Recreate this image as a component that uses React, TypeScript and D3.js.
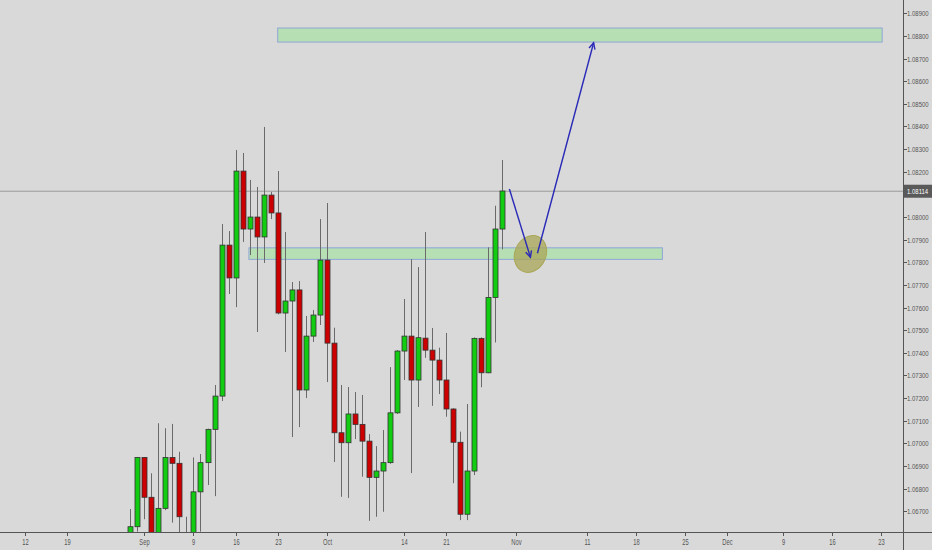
import React from "react";
import * as d3 from "d3";

// Daily bars (index 0 = Aug 30).
const opens = [1.06595,1.06632,1.06938,1.06762,1.06560,1.06713,1.06938,1.06912,1.06575,1.06540,
1.06786,1.06915,1.07062,1.07209,1.07876,1.07731,1.08203,1.07947,1.08000,1.07912,
1.08097,1.08018,1.07576,1.07629,1.07678,1.07236,1.07474,1.07567,1.07810,1.07443,
1.07047,1.07003,1.07130,1.07084,1.07010,1.06850,1.06878,1.06915,1.07135,1.07408,
1.07474,1.07280,1.07465,1.07412,1.07368,1.07280,1.07152,1.07005,1.06687,1.06878,
1.07464,1.07312,1.07645,1.07947];
const highs = [1.06710,1.06940,1.06940,1.06868,1.07089,1.07067,1.07086,1.06963,1.06676,1.06938,
1.06953,1.07065,1.07258,1.07969,1.07938,1.08296,1.08283,1.08164,1.08133,1.08398,
1.08111,1.08203,1.07934,1.07713,1.07717,1.07563,1.07589,1.07991,1.08062,1.07511,
1.07258,1.07249,1.07227,1.07214,1.07041,1.06988,1.07059,1.07337,1.07412,1.07638,
1.07814,1.07779,1.07934,1.07510,1.07423,1.07488,1.07155,1.07052,1.07174,1.07468,
1.07468,1.07866,1.08050,1.08252];
const lows = [1.06590,1.06610,1.06665,1.06560,1.06540,1.06705,1.06650,1.06590,1.06510,1.06520,
1.06610,1.06816,1.06767,1.07187,1.07660,1.07602,1.07890,1.07832,1.07492,1.07797,
1.07991,1.07570,1.07404,1.07028,1.07072,1.07200,1.07448,1.07523,1.07271,1.06918,
1.06764,1.06759,1.07019,1.06853,1.06658,1.06676,1.06698,1.06910,1.07130,1.07280,
1.06869,1.07161,1.07378,1.07166,1.07218,1.07118,1.06824,1.06661,1.06661,1.06860,
1.07248,1.07310,1.07446,1.07857];
const closes = [1.06632,1.06938,1.06762,1.06580,1.06713,1.06938,1.06912,1.06676,1.06530,1.06786,
1.06915,1.07062,1.07209,1.07876,1.07731,1.08203,1.07947,1.08000,1.07912,1.08097,
1.08018,1.07576,1.07629,1.07678,1.07236,1.07474,1.07567,1.07810,1.07443,1.07047,
1.07003,1.07130,1.07084,1.07010,1.06850,1.06878,1.06915,1.07135,1.07408,1.07474,
1.07280,1.07467,1.07412,1.07368,1.07280,1.07152,1.07005,1.06687,1.06878,1.07464,
1.07312,1.07645,1.07947,1.08115];

const currentPrice = 1.08114;

const dateTickIndex = [-15,-9,2,9,15,21,28,39,45,55,65,72,79,85,93,100,107];
const dateTickLabels = ["12","19","Sep","9","16","23","Oct","14","21","Nov","11","18","25","Dec","9","16","23"];

const priceTicks = [1.067,1.068,1.069,1.070,1.071,1.072,1.073,1.074,1.075,1.076,1.077,1.078,1.079,1.080,1.081,1.082,1.083,1.084,1.085,1.086,1.087,1.088,1.089];

// Drawings: zones [startIndex, endIndex, lowPrice, highPrice]
const zoneStart = [21, 16.9];
const zoneEnd = [107.1, 75.8];
const zoneLow = [1.08773, 1.07813];
const zoneHigh = [1.08835, 1.07864];

// Arrows as index/price
const arrowX1 = [54.0, 58.0];
const arrowP1 = [1.08124, 1.07840];
const arrowX2 = [57.0, 66.0];
const arrowP2 = [1.07822, 1.08770];

const ellipseIndex = 57.0;
const ellipsePrice = 1.07837;

const W = 932, H = 550;
const plotW = 903, plotH = 532;

export default function App() {
  const x = d3.scaleLinear().domain([-18.56, 110.07]).range([0, plotW]);
  const y = d3.scaleLinear().domain([1.066086, 1.089588]).range([plotH, 0]);
  const bodyW = 5;
  const font = "'Liberation Sans', Arial, sans-serif";
  const axisColor = "#555";

  const arrowHead = (x1: number, y1: number, x2: number, y2: number) => {
    const ang = Math.atan2(y2 - y1, x2 - x1);
    const len = 7, spread = 0.45;
    const a1 = ang + Math.PI - spread, a2 = ang + Math.PI + spread;
    return `M${x2 + len * Math.cos(a1)},${y2 + len * Math.sin(a1)}L${x2},${y2}L${x2 + len * Math.cos(a2)},${y2 + len * Math.sin(a2)}`;
  };

  return (
    <div style={{ position: "absolute", left: 0, top: 0 }}>
      <svg width={W} height={H} style={{ display: "block", background: "#d9d9d9" }}>
        <defs>
          <clipPath id="plot">
            <rect x={0} y={0} width={plotW} height={plotH} />
          </clipPath>
        </defs>
        <rect x={0} y={0} width={W} height={H} fill="#d9d9d9" />
        <g clipPath="url(#plot)">
          <line x1={0} x2={plotW} y1={y(currentPrice)} y2={y(currentPrice)} stroke="#9a9a9a" strokeWidth={1} />
          {zoneStart.map((s, i) => (
            <rect key={"z" + i} x={x(s)} y={y(zoneHigh[i])} width={x(zoneEnd[i]) - x(s)} height={y(zoneLow[i]) - y(zoneHigh[i])}
              fill="#b6dfb4" stroke="#8ea6d6" strokeWidth={1} />
          ))}
          {opens.map((o, i) => {
            const c = closes[i];
            const up = c >= o;
            const cx = Math.round(x(i)) + 0.5;
            const top = y(Math.max(o, c));
            const bot = y(Math.min(o, c));
            return (
              <g key={i}>
                <line x1={cx} x2={cx} y1={y(highs[i])} y2={y(lows[i])} stroke="#6a6a6a" strokeWidth={1} />
                <rect x={cx - bodyW / 2} y={top} width={bodyW} height={Math.max(1, bot - top)}
                  fill={up ? "#11cc11" : "#cc0000"} stroke="#333" strokeWidth={0.8} />
              </g>
            );
          })}
          <ellipse cx={x(ellipseIndex)} cy={y(ellipsePrice)} rx={15.5} ry={19}
            transform={`rotate(25 ${x(ellipseIndex)} ${y(ellipsePrice)})`}
            fill="#a8a655" fillOpacity={0.75} stroke="#a8a655" strokeWidth={1} />
          {arrowX1.map((a, i) => {
            const x1 = x(a), y1 = y(arrowP1[i]), x2 = x(arrowX2[i]), y2 = y(arrowP2[i]);
            return (
              <g key={"a" + i} stroke="#2a2ab8" strokeWidth={1.4} fill="none">
                <line x1={x1} y1={y1} x2={x2} y2={y2} />
                <path d={arrowHead(x1, y1, x2, y2)} />
              </g>
            );
          })}
        </g>
        <line x1={0} x2={W} y1={plotH + 0.5} y2={plotH + 0.5} stroke={axisColor} strokeWidth={1} />
        <line x1={plotW + 0.5} x2={plotW + 0.5} y1={0} y2={H} stroke={axisColor} strokeWidth={1} />
        {dateTickIndex.map((d, i) => {
          const tx = Math.round(x(d)) + 0.5;
          return (
            <g key={"dt" + i}>
              <line x1={tx} x2={tx} y1={plotH + 1} y2={plotH + 4} stroke={axisColor} />
              <text transform={`translate(${tx},${plotH + 13}) scale(0.68,1)`} textAnchor="middle"
                fontFamily={font} fontSize={8.5} fill="#555">{dateTickLabels[i]}</text>
            </g>
          );
        })}
        {priceTicks.map((p, i) => {
          const ty = Math.round(y(p)) + 0.5;
          return (
            <g key={"pt" + i}>
              <line x1={plotW + 1} x2={plotW + 4} y1={ty} y2={ty} stroke={axisColor} />
              <text transform={`translate(907,${ty}) scale(1,1.35)`} dy="0.35em" fontFamily={font} fontSize={6}
                fill="#555">{p.toFixed(5)}</text>
            </g>
          );
        })}
        <rect x={plotW + 1} y={y(currentPrice) - 6.5} width={W - plotW - 1} height={13} fill="#5a5a5a" />
        <text transform={`translate(907,${y(currentPrice)}) scale(1,1.35)`} dy="0.35em" fontFamily={font} fontSize={6}
          fill="#fff">{currentPrice.toFixed(5)}</text>
      </svg>
    </div>
  );
}
